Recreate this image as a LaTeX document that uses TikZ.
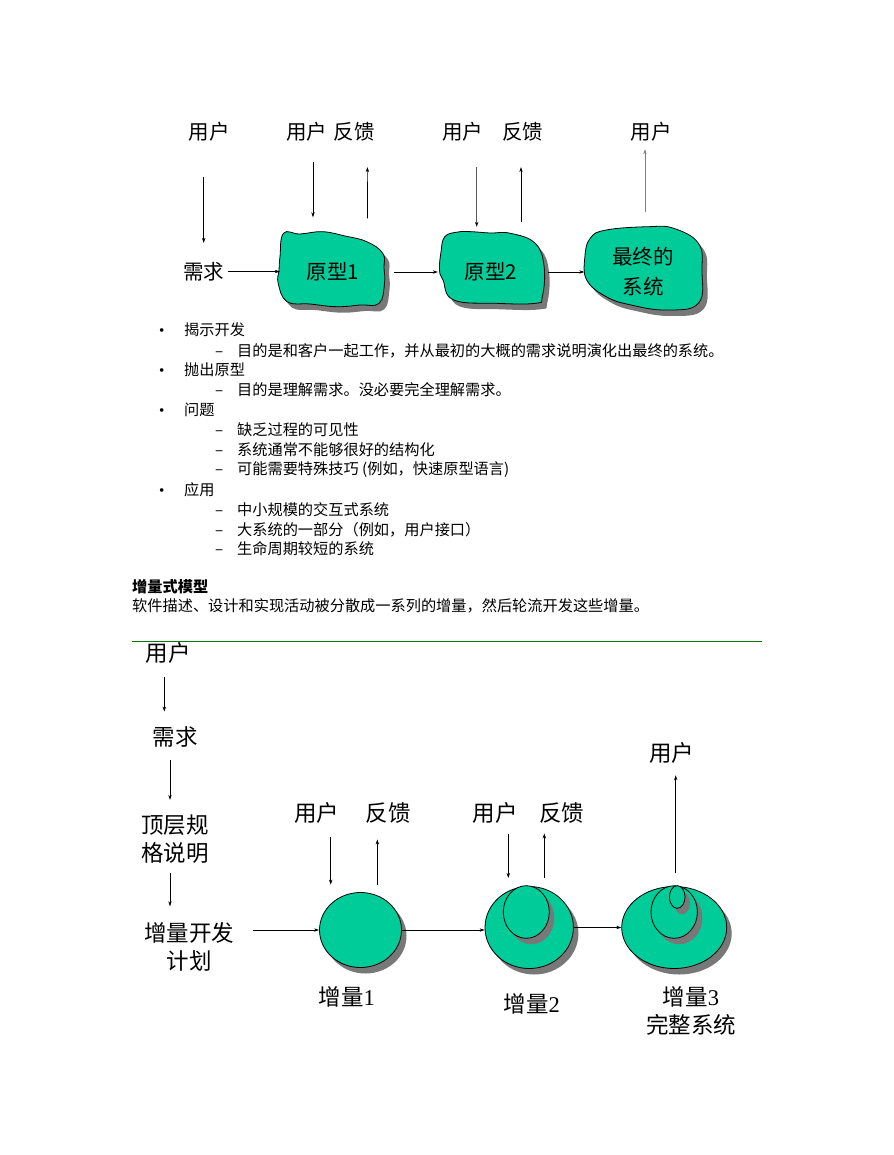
\documentclass[tikz,border=0pt]{standalone}
\usepackage{fontspec}
\setmainfont{Noto Sans CJK SC}
\newfontfamily\numserif{Liberation Serif}
\usetikzlibrary{
    positioning,
    arrows.meta,
    shapes.geometric
}
\definecolor{protogreen}{RGB}{0,204,153}
\definecolor{shadowgray}{RGB}{120,120,120}
\definecolor{rulegreen}{RGB}{0,120,0}
\tikzset{
    >={Stealth[length=5pt,width=3.4pt]},
    tag/.style={
        font=\fontsize{20.5}{30}\selectfont,
        inner sep=0pt,
        align=center
    },
    bigtag/.style={
        tag,
        font=\fontsize{22.5}{28}\selectfont
    },
    bodytext/.style={
        font=\fontsize{15.2}{20}\selectfont,
        inner sep=0pt,
        anchor=west
    },
    greenbody/.style={
        fill=protogreen,
        draw=black,
        line width=0.8pt,
        preaction={
            fill=shadowgray,
            draw=none,
            transform canvas={shift={(5,6)}}
        }
    },
    flow/.style={->, line width=0.6pt}
}

\begin{document}
\begin{tikzpicture}[
    x=1pt,
    y=-1pt
]
    \useasboundingbox[fill=white] (0,0) rectangle (893,1155);

    % Prototipos (contornos)
    \path[greenbody] plot[smooth cycle, tension=0.7] coordinates {
        (283.5,233.3) (300,234) (322.5,231.7) (345,236) (366.8,241.7)
        (382.8,253.3) (384,268) (384.5,283.3) (379.2,303.3) (360,305)
        (336.7,306.7) (310,304) (287,301.7) (278.2,283.3) (279,270) (280,256.7)};
    \path[greenbody] plot[smooth cycle, tension=0.7] coordinates {
        (444.8,236.7) (458,232) (471.4,231.7) (490,233) (510.4,233.3)
        (535.2,243.3) (544.1,266.7) (542.3,296.7) (535.2,303.3) (496.2,303.3)
        (453.7,300) (443,280) (439.5,270) (441,252)};
    \path[greenbody] plot[smooth cycle, tension=0.7] coordinates {
        (590.2,238.3) (606.2,230) (648.7,226.7) (673.5,228.3) (698.4,243.3)
        (701.9,270) (698.4,303.3) (666.5,310) (631,305) (606.2,296.7)
        (586.7,280) (584.9,256.7)};

    % Etiquetas
    \node[tag] (u0) at (209,131.5)   {用户};
    \node[tag] (u1) at (306.5,131.5) {用户};
    \node[tag] (f1) at (354.4,131.5) {反馈};
    \node[tag] (u2) at (462.6,131.5) {用户};
    \node[tag] (f2) at (522.8,131.5) {反馈};
    \node[tag] (u3) at (651,131.5)   {用户};
    \node[tag] (req) at (203.7,271.5) {需求};

    \node[tag, minimum width=106, minimum height=75] (p1) at (333,272) {原型1};
    \node[tag, minimum width=106, minimum height=72] (p2) at (491,272) {原型2};
    \node[tag, minimum width=117, minimum height=83] (p3) at (643,272) {最终的\\系统};

    % Flechas
    \draw[flow, shorten <=36pt, shorten >=19pt]
        ([xshift=-5.3pt]u0.south) -- (req.north);
    \draw[flow, shorten <=21pt, shorten >=17pt]
        ([xshift=6.5pt]u1.south) -- ([xshift=-20pt]p1.north);
    \draw[flow, shorten <=16pt, shorten >=26pt]
        ([xshift=34.5pt]p1.north) -- ([xshift=13pt]f1.south);
    \draw[flow, shorten <=26pt, shorten >=9pt]
        ([xshift=14pt]u2.south) -- ([xshift=-14.3pt]p2.north);
    \draw[flow, shorten <=14pt, shorten >=26pt]
        ([xshift=30pt]p2.north) -- ([xshift=-1.8pt]f2.south);
    \draw[flow, draw=gray, shorten <=18pt, shorten >=8pt]
        ([xshift=2pt]p3.north) -- ([xshift=-6pt]u3.south);
    \draw[flow, shorten <=4pt] (req.east) -- (req.east -| p1.west);
    \draw[flow, shorten <=8pt] (p1.east) -- (p1.east -| p2.west);
    \draw[flow, shorten <=4pt] (p2.east) -- (p2.east -| p3.west);

    % Texto
    \node[bodytext] (b1)  at (159,330)   {\makebox[25pt][l]{\numserif •}揭示开发};
    \node[bodytext] (b1a) at (215,350.5) {\makebox[22pt][l]{–}目的是和客户一起工作，并从最初的大概的需求说明演化出最终的系统。};
    \node[bodytext] (b2)  at (159,370)   {\makebox[25pt][l]{\numserif •}抛出原型};
    \node[bodytext] (b2a) at (215,390)   {\makebox[22pt][l]{–}目的是理解需求。没必要完全理解需求。};
    \node[bodytext] (b3)  at (159,410)   {\makebox[25pt][l]{\numserif •}问题};
    \node[bodytext] (b3a) at (215,430)   {\makebox[22pt][l]{–}缺乏过程的可见性};
    \node[bodytext] (b3b) at (215,450)   {\makebox[22pt][l]{–}系统通常不能够很好的结构化};
    \node[bodytext] (b3c) at (215,470)   {\makebox[22pt][l]{–}可能需要特殊技巧 (例如，快速原型语言)};
    \node[bodytext] (b4)  at (159,490)   {\makebox[25pt][l]{\numserif •}应用};
    \node[bodytext] (b4a) at (215,510)   {\makebox[22pt][l]{–}中小规模的交互式系统};
    \node[bodytext] (b4b) at (215,530)   {\makebox[22pt][l]{–}大系统的一部分（例如，用户接口）};
    \node[bodytext] (b4c) at (215,549)   {\makebox[22pt][l]{–}生命周期较短的系统};

    \node[bodytext, font=\fontsize{15.2}{20}\selectfont\bfseries] (inchead) at (132,587) {增量式模型};
    \node[bodytext] (incdesc) at (132,606) {软件描述、设计和实现活动被分散成一系列的增量，然后轮流开发这些增量。};

    \draw[rulegreen, line width=1pt] (132,641) -- (762,641);

    % Modelo incremental
    \node[bigtag] (bu0)  at (168.3,653.3) {用户};
    \node[bigtag] (breq) at (175,736.7)   {需求};
    \node[bigtag] (spec) at (175,839)     {顶层规\\格说明};
    \node[bigtag] (plan) at (189,946.5)   {增量开发\\计划};

    \node[greenbody, ellipse, inner sep=0pt, minimum width=82, minimum height=75]
        (e1) at (360.5,930) {};
    \node[greenbody, ellipse, inner sep=0pt, minimum width=88.4, minimum height=82]
        (e2) at (529.2,927.5) {};
    \node[greenbody, ellipse, inner sep=0pt, minimum width=46, minimum height=52.6]
        (e2in) at (526.3,912) {};
    \node[greenbody, ellipse, inner sep=0pt, minimum width=105, minimum height=82]
        (e3) at (674.2,927.5) {};
    \node[greenbody, ellipse, inner sep=0pt, minimum width=46.4, minimum height=52.6]
        (e3in) at (674.2,912) {};
    \node[greenbody, ellipse, inner sep=0pt, minimum width=15.6, minimum height=22.6]
        (e3core) at (677.2,897) {};

    \node[bigtag] (bu1) at (316.7,813.3) {用户};
    \node[bigtag] (bf1) at (388.3,813.3) {反馈};
    \node[bigtag] (bu2) at (495,813.3)   {用户};
    \node[bigtag] (bf2) at (561.7,813.3) {反馈};
    \node[bigtag] (bu3) at (671.7,753.3) {用户};

    \node[bigtag] (l1) at (346.7,997)  {增量{\numserif 1}};
    \node[bigtag] (l2) at (531.7,1003.5) {增量{\numserif 2}};
    \node[bigtag] (l3) at (691,1011)   {增量{\numserif 3}\\完整系统};

    \draw[flow, shorten <=13pt, shorten >=14.6pt]
        ([xshift=-4pt]bu0.south) -- ([xshift=-10.7pt]breq.north);
    \draw[flow, shorten <=13pt, shorten >=14.6pt]
        ([xshift=-5pt]breq.south) -- ([xshift=-5pt]spec.north);
    \draw[flow, shorten <=9.6pt, shorten >=15.6pt]
        ([xshift=-5pt]spec.south) -- ([xshift=-19pt]plan.north);
    \draw[flow, shorten <=19pt] (plan.east |- e1.west) -- (e1.west);
    \draw[flow] (e1.east) -- (e1.east -| e2.west);
    \draw[flow] (e2.east) -- (e2.east -| e3.west);

    \draw[flow, shorten <=13pt, shorten >=7.5pt]
        ([xshift=14pt]bu1.south) -- ([xshift=-29.8pt]e1.north);
    \draw[flow, shorten <=7.5pt, shorten >=15.6pt]
        ([xshift=16.8pt]e1.north) -- ([xshift=-11pt]bf1.south);
    \draw[flow, shorten <=9.6pt, shorten >=8.2pt]
        ([xshift=13.3pt]bu2.south) -- ([xshift=-20.9pt]e2.north);
    \draw[flow, shorten <=8.2pt, shorten >=9.6pt]
        ([xshift=15.1pt]e2.north) -- ([xshift=-17.4pt]bf2.south);
    \draw[flow, shorten <=13.2pt, shorten >=11.3pt]
        ([xshift=1.5pt]e3.north) -- ([xshift=4pt]bu3.south);

\end{tikzpicture}
\end{document}
